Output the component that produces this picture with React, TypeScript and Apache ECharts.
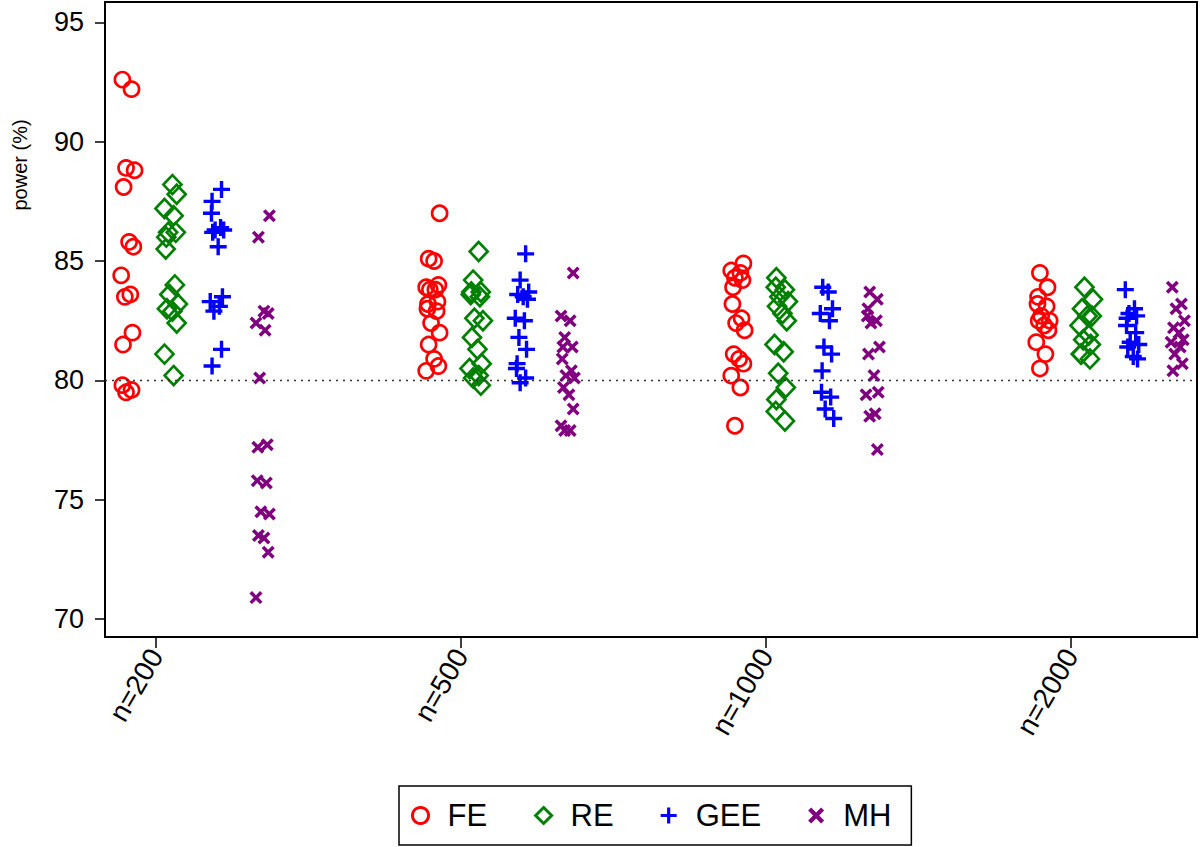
import React, { useEffect, useRef } from "react";
import * as echarts from "echarts";

const GROUPS = ["n=200", "n=500", "n=1000", "n=2000"];
const METHODS = ["FE", "RE", "GEE", "MH"];
const Y_TICKS = [70, 75, 80, 85, 90, 95];
const REFERENCE_LEVEL = 80;

const FE_VALUES = [
  [92.6, 92.2, 88.9, 88.8, 88.1, 85.8, 85.6, 84.4, 83.6, 83.5, 82.0, 81.5, 79.8, 79.6, 79.5],
  [87.0, 85.1, 85.0, 84.0, 83.9, 83.8, 83.8, 83.3, 83.2, 83.0, 82.9, 82.4, 82.0, 81.5, 80.9, 80.6, 80.4],
  [84.9, 84.6, 84.5, 84.3, 84.2, 83.9, 83.2, 82.6, 82.4, 82.1, 81.1, 80.9, 80.7, 80.2, 79.7, 78.1],
  [84.5, 83.9, 83.5, 83.2, 83.1, 82.7, 82.5, 82.5, 82.3, 82.1, 81.6, 81.1, 80.5],
];
const RE_VALUES = [
  [88.2, 87.8, 87.2, 86.9, 86.2, 86.2, 86.0, 85.5, 84.0, 83.6, 83.2, 83.0, 82.9, 82.4, 81.1, 80.2],
  [85.4, 84.2, 83.7, 83.7, 83.6, 83.5, 82.6, 82.5, 81.8, 81.3, 80.7, 80.5, 80.2, 80.1, 79.8],
  [84.3, 83.9, 83.8, 83.5, 83.3, 83.1, 82.8, 82.5, 81.5, 81.2, 80.3, 79.7, 79.2, 78.7, 78.3],
  [83.9, 83.4, 83.0, 82.7, 82.7, 82.3, 81.9, 81.7, 81.5, 81.1, 81.1, 80.9],
];
const GEE_VALUES = [
  [88.0, 87.5, 87.0, 86.4, 86.3, 86.3, 86.2, 85.6, 83.5, 83.3, 83.1, 82.9, 81.3, 80.6],
  [85.3, 84.2, 83.7, 83.6, 83.5, 83.4, 82.6, 82.5, 81.8, 81.3, 80.7, 80.5, 80.1, 79.9],
  [83.9, 83.7, 83.0, 82.8, 82.5, 81.4, 81.1, 80.4, 79.5, 79.3, 78.8, 78.4],
  [83.8, 83.0, 82.8, 82.7, 82.6, 82.3, 82.0, 81.6, 81.5, 81.4, 81.0, 80.9],
];
const MH_VALUES = [
  [86.9, 86.0, 82.9, 82.8, 82.4, 82.1, 80.1, 77.3, 77.2, 75.8, 75.7, 74.5, 74.4, 73.5, 73.4, 72.8, 70.9],
  [84.5, 82.7, 82.5, 81.8, 81.4, 81.4, 80.9, 80.4, 80.2, 80.1, 79.7, 79.4, 78.8, 78.1, 77.9, 77.9],
  [83.7, 83.4, 83.0, 82.7, 82.5, 82.4, 81.4, 81.1, 80.2, 79.5, 79.4, 78.6, 78.5, 77.1],
  [83.9, 83.2, 83.0, 82.5, 82.2, 82.0, 81.7, 81.6, 81.4, 81.1, 80.7, 80.4],
];

// horizontal position of each method within a group (axis units) and a fixed jitter pattern
const METHOD_OFFSETS = [-0.092, 0.05, 0.2, 0.35];
const JITTER = [-0.018, 0.012, -0.006, 0.022, -0.014, 0.004, 0.018, -0.022, 0.008, -0.01, 0.015, -0.016];

const COLORS = ["#ff0000", "#008000", "#0000ff", "#800080"];
const PLUS_PATH = "path://M4,0H6V4H10V6H6V10H4V6H0V4H4Z";
const CROSS_PATH =
  "path://M0,1.9L1.9,0L5,3.1L8.1,0L10,1.9L6.9,5L10,8.1L8.1,10L5,6.9L1.9,10L0,8.1L3.1,5Z";

const FONT = "'Liberation Sans', Arial, Helvetica, sans-serif";

export default function App() {
  const ref = useRef<HTMLDivElement>(null);

  useEffect(() => {
    if (!ref.current) return;
    const chart = echarts.init(ref.current, null, { renderer: "svg" });

    const allValues = [FE_VALUES, RE_VALUES, GEE_VALUES, MH_VALUES];
    const symbols: any[] = ["circle", "diamond", PLUS_PATH, CROSS_PATH];
    const sizes: any[] = [15, [18, 19], 17, 13];

    const series: any[] = METHODS.map((name, m) => {
      const data: number[][] = [];
      allValues[m].forEach((vals, g) => {
        vals.forEach((v, i) => {
          data.push([g + 1 + METHOD_OFFSETS[m] + JITTER[(i + m * 5 + g * 3) % JITTER.length], v]);
        });
      });
      const hollow = m < 2;
      const s: any = {
        name,
        type: "scatter",
        symbol: symbols[m],
        symbolSize: sizes[m],
        data,
        itemStyle: hollow
          ? { color: "rgba(0,0,0,0)", borderColor: COLORS[m], borderWidth: 2.7, opacity: 1 }
          : { color: COLORS[m], borderWidth: 0, opacity: 1 },
        emphasis: { disabled: true },
      };
      if (m === 0) {
        s.markLine = {
          silent: true,
          symbol: "none",
          label: { show: false },
          lineStyle: { type: [2, 5], color: "#333", width: 1.4 },
          data: [{ yAxis: REFERENCE_LEVEL }],
        };
      }
      return s;
    });

    chart.setOption({
      animation: false,
      backgroundColor: "#ffffff",
      textStyle: { fontFamily: FONT },
      grid: {
        left: 105,
        right: 3,
        top: 2,
        bottom: 210,
        show: true,
        borderColor: "#000",
        borderWidth: 2,
        outerBoundsMode: "none",
      },
      xAxis: {
        type: "value",
        min: 0.833,
        max: 4.413,
        splitLine: { show: false },
        axisLine: { show: true, lineStyle: { color: "#000", width: 2 } },
        axisTick: {
          show: true,
          length: 11,
          lineStyle: { color: "#000", width: 1.5 },
          customValues: [1, 2, 3, 4],
        },
        axisLabel: {
          customValues: [1, 2, 3, 4],
          formatter: (v: number) => GROUPS[Math.round(v) - 1] ?? "",
          rotate: 60,
          margin: 14,
          fontSize: 28,
          color: "#000",
          fontFamily: FONT,
        },
      },
      yAxis: {
        type: "value",
        min: 69.25,
        max: 95.85,
        splitLine: { show: false },
        axisLine: { show: true, lineStyle: { color: "#000", width: 2 } },
        axisTick: {
          show: true,
          length: 10,
          lineStyle: { color: "#000", width: 1.5 },
          customValues: Y_TICKS,
        },
        axisLabel: {
          customValues: Y_TICKS,
          margin: 21,
          fontSize: 27,
          color: "#000",
          fontFamily: FONT,
        },
      },
      legend: {
        data: METHODS,
        left: 399,
        top: 786,
        orient: "horizontal",
        padding: [14, 20, 14, 12],
        itemGap: 47,
        itemWidth: 16,
        itemHeight: 16,
        borderColor: "#000",
        borderWidth: 1.5,
        itemStyle: { borderWidth: 3 },
        textStyle: { fontSize: 31, color: "#000", fontFamily: FONT, padding: [0, 0, 0, 14] },
      },
      graphic: [
        {
          type: "text",
          x: 20,
          y: 165,
          rotation: Math.PI / 2,
          style: {
            text: "power (%)",
            fontSize: 20,
            fontFamily: FONT,
            fill: "#000",
            align: "center",
            verticalAlign: "middle",
          },
        },
      ],
      series,
    });

    return () => chart.dispose();
  }, []);

  return (
    <div
      ref={ref}
      style={{ position: "fixed", left: 0, top: 0, width: 1200, height: 847, background: "#fff" }}
    />
  );
}
